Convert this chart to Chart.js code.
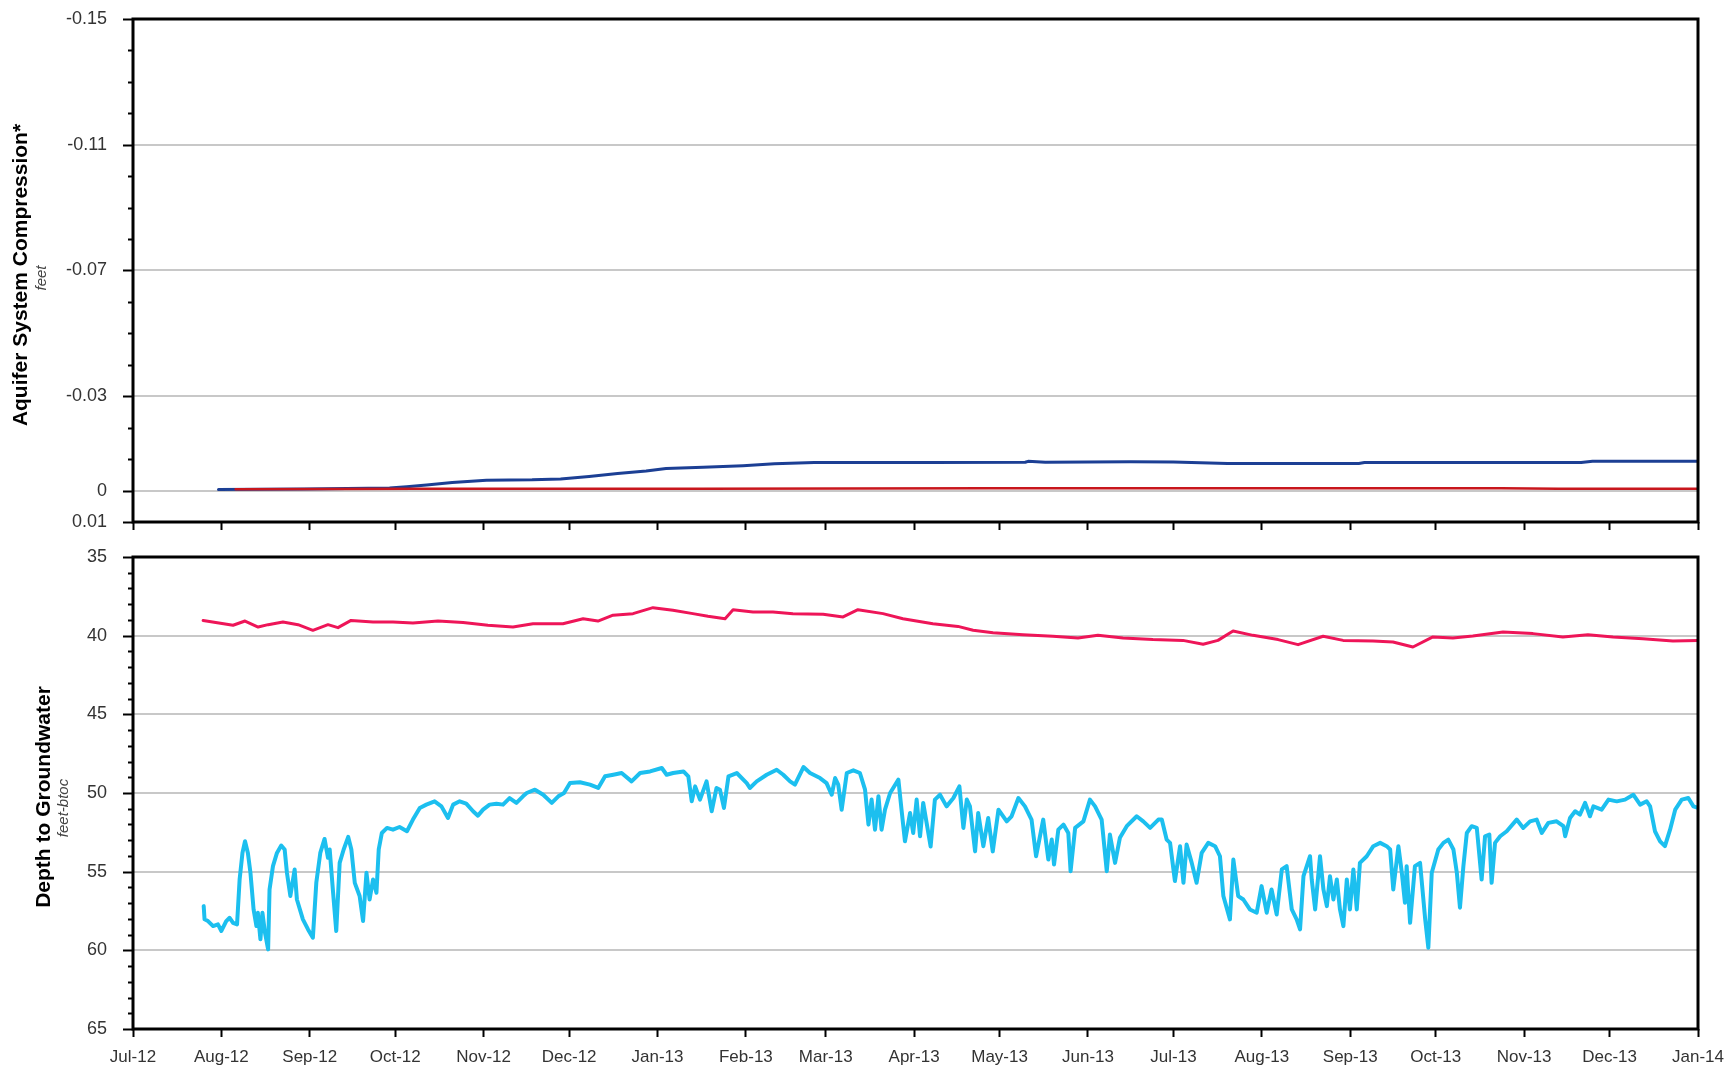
<!DOCTYPE html>
<html>
<head>
<meta charset="utf-8">
<script src="https://cdn.jsdelivr.net/npm/chart.js@4.4.1/dist/chart.umd.min.js"></script>
<style>
  html, body { margin: 0; padding: 0; background: #fff; }
  #wrap { position: relative; width: 1730px; height: 1071px; overflow: hidden; background: #fff; }
  canvas { position: absolute; left: 0; }
  #compression { top: 0; }
  #depth { top: 545px; }
</style>
</head>
<body>
<div id="wrap">
  <canvas id="compression" width="1730" height="545"></canvas>
  <canvas id="depth" width="1730" height="526"></canvas>
</div>
<script>
// ---- Time axis: month starts and their labels ----
const monthStarts = ['2012-07-01','2012-08-01','2012-09-01','2012-10-01','2012-11-01','2012-12-01',
  '2013-01-01','2013-02-01','2013-03-01','2013-04-01','2013-05-01','2013-06-01','2013-07-01',
  '2013-08-01','2013-09-01','2013-10-01','2013-11-01','2013-12-01','2014-01-01'];
const monthLabels = ['Jul-12','Aug-12','Sep-12','Oct-12','Nov-12','Dec-12','Jan-13','Feb-13','Mar-13',
  'Apr-13','May-13','Jun-13','Jul-13','Aug-13','Sep-13','Oct-13','Nov-13','Dec-13','Jan-14'];

// ---- Compression panel tick values ----
const compressionTickValues = [-0.15, -0.11, -0.07, -0.03, 0, 0.01];
const compressionTickLabels = ['-0.15', '-0.11', '-0.07', '-0.03', '0', '0.01'];
const compressionGridValues = [-0.11, -0.07, -0.03, 0];

// ---- Depth panel tick values ----
const depthTickValues = [35, 40, 45, 50, 55, 60, 65];
const depthTickLabels = ['35', '40', '45', '50', '55', '60', '65'];
const depthGridValues = [40, 45, 50, 55, 60];

// ---- Aquifer system compression (feet), x = days since 1 Jul 2012 ----
const extensometerADays = [30, 60, 90, 96, 103, 112, 124, 140, 150, 160, 170, 180, 187, 200, 214, 225, 239,
  280, 313, 314, 320, 350, 365, 384, 430, 432, 508, 512, 549];
const extensometerAFeet = [-0.0003, -0.0005, -0.0008, -0.0012, -0.0018, -0.0026, -0.0033, -0.0034, -0.0037,
  -0.0045, -0.0054, -0.0062, -0.0070, -0.0074, -0.0079, -0.0085, -0.0089,
  -0.0089, -0.0090, -0.0093, -0.0090, -0.0092, -0.0091, -0.0086, -0.0086, -0.0089, -0.0089, -0.0093, -0.0093];

const extensometerBDays = [36, 100, 200, 300, 400, 480, 500, 549];
const extensometerBFeet = [-0.0004, -0.0006, -0.0006, -0.0007, -0.0007, -0.0007, -0.0006, -0.0006];

// ---- Depth to groundwater, shallow well (feet-btoc) ----
const shallowWellDays = [24.6, 35.1, 39.3, 43.9, 47.4, 52.6, 57.9, 63.1, 68.4, 71.9, 76.5, 84.2, 91.2, 98.2,
  107.0, 115.8, 124.5, 133.3, 140.3, 150.8, 157.9, 163.1, 168.4, 175.4, 182.4, 189.4, 196.4, 201.7, 207.7,
  210.5, 217.5, 224.5, 231.5, 242.1, 249.1, 254.3, 263.1, 270.1, 280.6, 289.4, 294.7, 301.7, 312.2, 322.7,
  331.5, 338.5, 347.3, 357.8, 368.3, 375.4, 380.6, 385.9, 392.9, 401.7, 408.7, 417.5, 424.5, 435.0, 442.0,
  449.0, 456.0, 463.0, 470.0, 480.6, 491.1, 501.6, 510.4, 519.2, 529.7, 540.2, 549.0];
const shallowWellDepth = [39.03, 39.34, 39.07, 39.45, 39.30, 39.13, 39.30, 39.66, 39.30, 39.49, 39.03, 39.13,
  39.13, 39.19, 39.07, 39.17, 39.34, 39.45, 39.24, 39.24, 38.92, 39.07, 38.70, 38.60, 38.22, 38.39, 38.60,
  38.77, 38.92, 38.35, 38.50, 38.50, 38.60, 38.64, 38.81, 38.35, 38.60, 38.92, 39.24, 39.41, 39.66, 39.81,
  39.94, 40.04, 40.15, 39.98, 40.15, 40.25, 40.30, 40.55, 40.30, 39.70, 39.98, 40.25, 40.57, 40.04, 40.30,
  40.34, 40.40, 40.72, 40.08, 40.15, 40.02, 39.77, 39.87, 40.08, 39.94, 40.08, 40.19, 40.34, 40.30];

// ---- Depth to groundwater, deep well (feet-btoc) ----
const deepWellDays = [24.8, 25.1, 26.3, 28.1, 29.8, 31.0, 32.7, 33.9, 35.1, 36.5, 37.4, 38.4, 39.3, 40.3, 41.2,
  42.3, 43.3, 43.8, 44.7, 45.4, 46.3, 47.4, 47.9, 49.1, 50.5, 52.0, 53.2, 54.0, 55.2, 56.7, 57.5, 59.6, 61.4,
  63.1, 64.3, 65.7, 67.2, 68.4, 69.0, 70.2, 71.3, 72.5, 73.9, 75.5, 76.6, 77.8, 79.5, 80.7, 81.9, 83.0, 84.2,
  85.4, 86.2, 87.3, 89.1, 91.2, 93.5, 96.1, 98.2, 100.6, 102.9, 105.8, 108.2, 110.5, 112.3, 114.6, 116.9,
  119.3, 121.0, 122.8, 125.1, 127.5, 129.8, 132.1, 134.5, 136.8,
  138.1, 141.0, 143.9, 146.9, 149.2, 151.2, 153.3, 156.8, 160.3, 163.2, 165.6, 168.5, 171.4, 174.9, 177.9,
  181.4, 185.5, 187.2, 189.5, 193.1, 194.8, 196.0, 197.2, 198.9, 201.2, 203.0, 204.7, 205.9, 207.3, 208.9,
  211.8, 215.3, 216.4, 218.8, 222.3, 225.8, 228.1, 230.5, 232.2, 235.2, 237.5, 241.0, 243.3, 245.1, 246.3,
  247.4, 248.6, 250.4, 252.7, 255.0, 256.8, 258.0, 259.1, 260.3, 261.5, 262.6, 263.8, 265.6, 268.5, 269.6,
  270.8, 272.6, 273.7, 274.9, 276.1, 277.2, 278.4, 279.8, 281.3, 283.1, 285.4, 287.8, 289.9, 291.3, 292.5,
  293.6, 295.4, 296.5, 298.3, 300.0, 301.6, 303.6, 306.5, 308.2, 310.6, 312.9, 315.2, 316.8, 319.3, 321.1,
  322.3, 323.1, 324.6, 326.4, 328.1, 328.9, 330.5, 333.4, 335.7, 337.5, 339.8, 341.6, 342.7, 344.5, 346.2,
  348.6, 352.1, 354.4, 356.8, 359.7, 360.9, 362.6, 363.8, 365.5, 367.3, 368.5, 369.6, 371.4, 373.1, 374.9,
  377.2, 379.6, 381.3, 382.5, 384.8, 386.0, 387.7, 389.5, 391.8, 394.2, 395.9, 397.7, 399.4, 401.2, 403.0,
  404.7, 406.5, 408.2, 409.4, 410.6, 412.9, 413.5, 414.7, 416.4, 417.6, 418.8, 419.9, 421.1, 422.3, 423.4,
  424.6, 425.8, 426.9, 428.1, 429.3, 430.4, 432.8, 435.1, 437.5, 439.8, 441.0, 442.1, 443.9, 445.1, 446.2,
  446.8, 448.0, 449.7, 451.5, 453.3, 454.4, 455.6, 457.9, 459.7, 461.4, 463.2, 464.4, 465.5, 466.7, 467.9,
  469.6, 471.4, 473.1, 474.3, 475.8, 476.6, 477.8, 479.6, 481.9, 485.4, 487.7, 490.1, 492.4, 494.2, 496.5,
  499.4, 501.8, 502.4, 504.1, 505.9, 507.6, 509.4, 511.1, 512.3, 515.2, 517.6, 520.5, 523.4, 526.3, 528.7,
  531.0, 532.2, 533.9, 535.7, 537.4, 539.2, 541.0, 543.3, 545.6, 547.4, 549.0];
const deepWellDepth = [57.19, 58.03, 58.14, 58.46, 58.35, 58.77, 58.14, 57.93, 58.25, 58.35, 55.50, 53.81, 53.07,
  53.81, 55.07, 57.40, 58.46, 57.61, 59.30, 57.61, 58.88, 59.94, 56.13, 54.65, 53.81, 53.34, 53.59, 55.07,
  56.55, 54.86, 56.77, 58.03, 58.67, 59.20, 55.71, 53.81, 52.92, 54.12, 53.59, 56.34, 58.77, 54.44, 53.59,
  52.79, 53.59, 55.71, 56.55, 58.14, 55.07, 56.77, 55.50, 56.34, 53.59, 52.54, 52.22, 52.33, 52.16, 52.43,
  51.69, 50.95, 50.74, 50.53, 50.85, 51.59, 50.74, 50.53, 50.68, 51.16, 51.44, 51.06, 50.74, 50.68, 50.74,
  50.32, 50.63, 50.21,
  50.00, 49.79, 50.11, 50.63, 50.21, 50.00, 49.37, 49.32, 49.47, 49.68, 48.94, 48.84, 48.73, 49.26, 48.73,
  48.63, 48.41, 48.84, 48.73, 48.63, 48.94, 50.53, 49.58, 50.42, 49.26, 51.16, 49.68, 49.79, 50.95, 48.94,
  48.73, 49.37, 49.68, 49.26, 48.84, 48.52, 48.84, 49.26, 49.47, 48.35, 48.73, 49.05, 49.37, 50.11, 49.05,
  49.47, 51.06, 48.73, 48.56, 48.73, 49.79, 52.01, 50.42, 52.33, 50.21, 52.33, 51.06, 50.00, 49.15, 51.06,
  53.07, 51.27, 52.54, 50.42, 52.75, 50.63, 51.90, 53.40, 50.42, 50.11, 50.85, 50.32, 49.58, 52.22, 50.42,
  50.85, 53.71, 51.27, 53.38, 51.59, 53.71, 51.06, 51.80, 51.48, 50.32, 50.85, 51.69, 54.02, 51.69, 54.23,
  52.96, 54.55, 52.33, 52.01, 52.54, 54.97, 52.22, 51.80, 50.42, 50.85, 51.69, 54.97, 52.64, 54.44, 52.85,
  52.11, 51.48, 51.80, 52.22, 51.69, 51.69, 52.96, 53.17, 55.60, 53.38, 55.71, 53.28, 54.44, 55.71, 53.81,
  53.17, 53.38, 54.02, 56.55, 58.03, 54.23, 56.55, 56.77, 57.40, 57.61, 55.92, 57.61, 56.13, 57.72, 54.86,
  54.65, 57.40, 58.03, 58.67, 55.29, 54.02, 55.50, 57.40, 54.02, 56.13, 57.19, 55.29, 56.77, 55.50, 57.40,
  58.46, 55.50, 57.40, 54.86, 57.40, 54.44, 54.02, 53.38, 53.17, 53.38, 53.59, 56.13, 53.38, 55.07, 56.98,
  54.65, 58.25, 54.65, 54.44, 58.03, 59.83, 55.07, 53.59, 53.17, 52.96, 53.59, 55.07, 57.29, 54.65, 52.54,
  52.11, 52.22, 55.50, 52.75, 52.64, 55.71, 53.17, 52.75, 52.43, 51.69, 52.22, 51.80, 51.69, 52.54, 51.90,
  51.80, 52.11, 52.75, 51.59, 51.16, 51.37, 50.63, 51.48, 50.85, 51.06, 50.42, 50.53, 50.42, 50.11, 50.74,
  50.53, 50.85, 52.43, 53.07, 53.38, 52.33, 51.06, 50.42, 50.32, 50.85, 50.95];

// ---------------------------------------------------------------------------
const DAY_MS = 86400000;
const origin = Date.parse(monthStarts[0] + 'T00:00:00Z');
const monthDays = monthStarts.map(s => (Date.parse(s + 'T00:00:00Z') - origin) / DAY_MS);
const xMax = monthDays[monthDays.length - 1];

const FONT = "'Liberation Sans', Arial, sans-serif";
const GRID = '#c8c8c8';
const TEXT = '#333333';
const CLEAR = 'rgba(0,0,0,0)';

const near = (a, b) => Math.abs(a - b) < 1e-9;
const pairs = (xs, ys) => xs.map((x, i) => ({ x, y: ys[i] }));
function rangeTicks(min, max, step, digits) {
  const out = [];
  const n = Math.round((max - min) / step);
  for (let i = 0; i <= n; i++) out.push(+(min + i * step).toFixed(digits));
  return out;
}

// Frame, y tick marks (major/minor) and the two-line rotated axis title
const panelDecor = {
  id: 'panelDecor',
  afterDraw(chart, args, o) {
    const { ctx, chartArea: a } = chart;
    const y = chart.scales.y;
    ctx.save();
    ctx.strokeStyle = '#000';
    ctx.lineWidth = 2;
    y.ticks.forEach(t => {
      const py = Math.round(y.getPixelForValue(t.value)) + 0.5;
      const len = o.majors.some(m => near(m, t.value)) ? 10 : 5;
      ctx.beginPath();
      ctx.moveTo(a.left - len, py);
      ctx.lineTo(a.left, py);
      ctx.stroke();
    });
    ctx.lineWidth = 3;
    ctx.strokeRect(a.left, a.top, a.right - a.left, a.bottom - a.top);

    ctx.fillStyle = '#000';
    ctx.textAlign = 'center';
    ctx.textBaseline = 'middle';
    ctx.save();
    ctx.translate(o.titleX, o.titleY);
    ctx.rotate(-Math.PI / 2);
    ctx.font = 'bold 21px ' + FONT;
    ctx.fillText(o.title, 0, 0);
    ctx.restore();
    ctx.save();
    ctx.translate(o.unitX, o.unitY);
    ctx.rotate(-Math.PI / 2);
    ctx.fillStyle = '#444';
    ctx.font = 'italic 15px ' + FONT;
    ctx.fillText(o.unit, 0, 0);
    ctx.restore();
    ctx.restore();
  }
};

function makePanel(canvasId, cfg) {
  const yTicks = rangeTicks(cfg.yMin, cfg.yMax, cfg.yStep, 2);
  return new Chart(document.getElementById(canvasId), {
    type: 'line',
    data: { datasets: cfg.datasets },
    plugins: [panelDecor],
    options: {
      responsive: false,
      animation: false,
      devicePixelRatio: 1,
      layout: { autoPadding: false, padding: { top: cfg.padTop, right: 32, left: 0, bottom: 0 } },
      plugins: {
        legend: { display: false },
        tooltip: { enabled: false },
        panelDecor: cfg.decor
      },
      elements: { point: { radius: 0 }, line: { tension: 0, borderJoinStyle: 'round', borderCapStyle: 'round' } },
      scales: {
        x: {
          type: 'linear',
          min: 0,
          max: xMax,
          afterBuildTicks: s => { s.ticks = monthDays.map(v => ({ value: v })); },
          afterFit: s => { s.height = cfg.xHeight; s.paddingLeft = 0; s.paddingRight = 0; },
          border: { display: false },
          grid: { display: true, drawOnChartArea: false, drawTicks: true, tickLength: 8, tickWidth: 2, tickColor: '#000' },
          ticks: {
            display: cfg.showMonths,
            autoSkip: false,
            maxRotation: 0,
            padding: 10,
            color: TEXT,
            font: { family: FONT, size: 17 },
            callback: v => {
              const i = monthDays.findIndex(d => near(d, v));
              return i >= 0 ? monthLabels[i] : '';
            }
          }
        },
        y: {
          type: 'linear',
          reverse: true,
          min: cfg.yMin,
          max: cfg.yMax,
          afterBuildTicks: s => { s.ticks = yTicks.map(v => ({ value: v })); },
          afterFit: s => { s.width = 133; s.paddingTop = 0; s.paddingBottom = 0; },
          border: { display: false },
          grid: {
            drawTicks: true,
            tickLength: 26,
            tickColor: CLEAR,
            lineWidth: 2,
            color: c => (c.tick && cfg.gridValues.some(g => near(g, c.tick.value))) ? GRID : CLEAR
          },
          ticks: {
            autoSkip: false,
            padding: 0,
            color: TEXT,
            font: { family: FONT, size: 18 },
            callback: v => {
              const i = cfg.tickValues.findIndex(t => near(t, v));
              return i >= 0 ? cfg.tickLabels[i] : '';
            }
          }
        }
      }
    }
  });
}

// Top panel: aquifer system compression
makePanel('compression', {
  yMin: -0.15, yMax: 0.01, yStep: 0.01,
  tickValues: compressionTickValues, tickLabels: compressionTickLabels, gridValues: compressionGridValues,
  padTop: 19, xHeight: 23, showMonths: false,
  decor: {
    majors: compressionTickValues,
    title: 'Aquifer System Compression*', titleX: 21, titleY: 275,
    unit: 'feet', unitX: 42, unitY: 278
  },
  datasets: [
    { data: pairs(extensometerBDays, extensometerBFeet), borderColor: '#c8161d', borderWidth: 2.5 },
    { data: pairs(extensometerADays, extensometerAFeet), borderColor: '#1c3f94', borderWidth: 3 }
  ]
});

// Bottom panel: depth to groundwater
makePanel('depth', {
  yMin: 35, yMax: 65, yStep: 1,
  tickValues: depthTickValues, tickLabels: depthTickLabels, gridValues: depthGridValues,
  padTop: 12, xHeight: 42, showMonths: true,
  decor: {
    majors: depthTickValues,
    title: 'Depth to Groundwater', titleX: 44, titleY: 252,
    unit: 'feet-btoc', unitX: 64, unitY: 263
  },
  datasets: [
    { data: pairs(shallowWellDays, shallowWellDepth), borderColor: '#ee1558', borderWidth: 3 },
    { data: pairs(deepWellDays, deepWellDepth), borderColor: '#1cbfef', borderWidth: 4 }
  ]
});
</script>
</body>
</html>
